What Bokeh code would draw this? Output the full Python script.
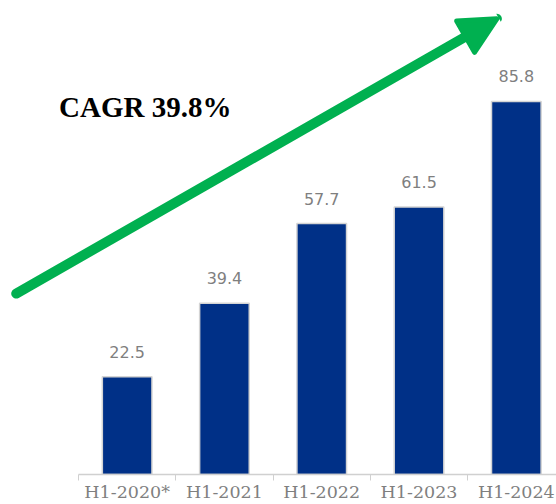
from bokeh.plotting import figure
from bokeh.models import Range1d, FixedTicker, Arrow, NormalHead, Label, ColumnDataSource
from bokeh.core.properties import value
from bokeh.embed import file_html
from bokeh.resources import INLINE

categories = ["H1-2020*", "H1-2021", "H1-2022", "H1-2023", "H1-2024"]
values = [22.5, 39.4, 57.7, 61.5, 85.8]
cagr_text = "CAGR 39.8%"

BAR_COLOR = "#003087"
GREEN = "#00B050"
LABEL_GRAY = "#7F7F7F"

X_START, X_END = -0.8017, 4.913

xs = [i + 0.5 for i in range(len(categories))]
src = ColumnDataSource(dict(x=xs, top=values, label=[f"{v:.1f}" for v in values]))

p = figure(width=556, height=504, output_backend="svg", toolbar_location=None,
           x_range=Range1d(X_START, X_END), y_range=Range1d(0, 109.0),
           min_border_left=0, min_border_right=0, min_border_top=0, min_border_bottom=0)
p.outline_line_color = None
p.grid.visible = False
p.yaxis.visible = False
p.background_fill_color = "white"
p.border_fill_color = "white"

p.vbar(x="x", top="top", width=0.51, bottom=0, source=src,
       fill_color=BAR_COLOR, line_color="#d4d4d4", line_width=1.5)

p.text(x="x", y="top", text="label", source=src, y_offset=-25,
       text_align="center", text_baseline="alphabetic",
       text_font=value("DejaVu Sans"), text_font_size="16px", text_color=LABEL_GRAY)

ax = p.xaxis[0]
ax.bounds = (0, X_END)
ax.ticker = FixedTicker(ticks=xs, minor_ticks=list(range(len(categories))))
ax.major_label_overrides = {x: c for x, c in zip(xs, categories)}
ax.major_tick_out = 0
ax.major_tick_in = 0
ax.minor_tick_out = 6
ax.minor_tick_in = 0
ax.minor_tick_line_color = "#D0D0D0"
ax.axis_line_color = "#D0D0D0"
ax.axis_line_width = 1.5
ax.major_label_standoff = 1
ax.major_label_text_font = "DejaVu Serif"
ax.major_label_text_font_size = "17.5px"
ax.major_label_text_color = LABEL_GRAY

# Growth arrow (data units)
arrow_start = (-0.64, 41.6)
arrow_end = (4.30, 104.8)
p.add_layout(Arrow(x_start=arrow_start[0], y_start=arrow_start[1],
                   x_end=arrow_end[0], y_end=arrow_end[1],
                   line_color=GREEN, line_width=10, line_cap="round",
                   end=NormalHead(size=36, fill_color=GREEN, line_color=GREEN,
                                  line_width=5, line_join="round")))

p.add_layout(Label(x=-0.20, y=84.6, text=cagr_text, text_font="Liberation Serif",
                   text_font_style="bold", text_font_size="29px", text_color="black",
                   text_baseline="alphabetic"))

open("out.html", "w").write(file_html(p, INLINE))
